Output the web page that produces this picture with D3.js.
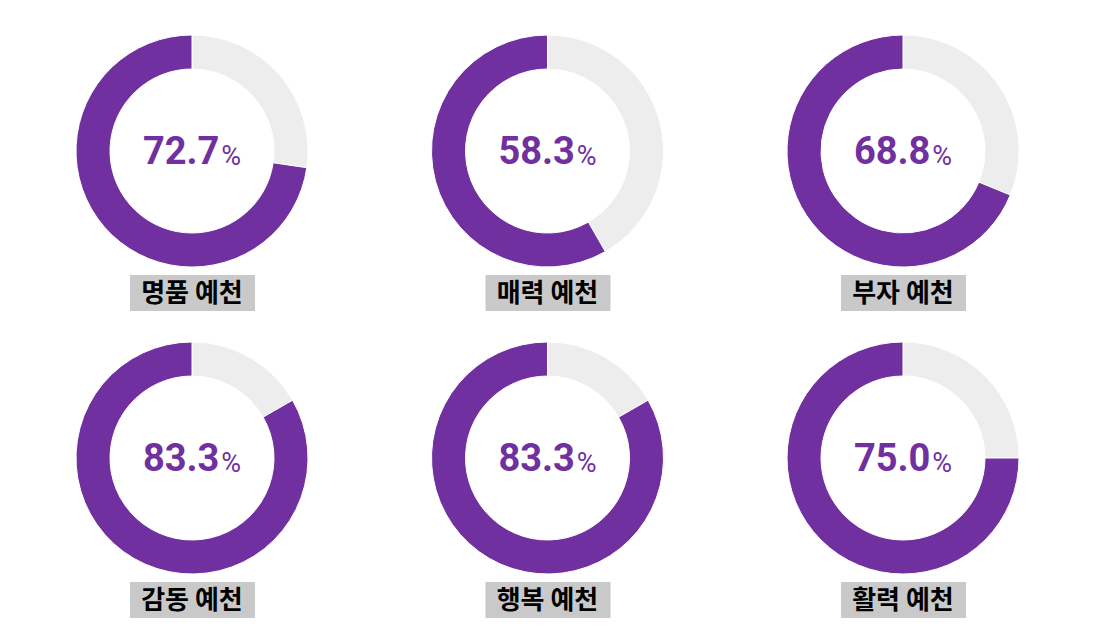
<!DOCTYPE html>
<html>
<head>
<meta charset="utf-8">
<script src="https://cdn.jsdelivr.net/npm/d3@7"></script>
<style>
  body { margin: 0; background: #fff; }
</style>
</head>
<body>
<svg id="chart" width="1095" height="644"></svg>
<script>
// values
const labels = ["명품 예천", "매력 예천", "부자 예천", "감동 예천", "행복 예천", "활력 예천"];
const percents = [72.7, 58.3, 68.8, 83.3, 83.3, 75.0];

const W = 1095, H = 644;
const outerR = 116, innerR = 82;
const purple = "#7030a0", grey = "#ededed";

const svg = d3.select("#chart");

const col = d3.scalePoint().domain([0, 1, 2]).range([192, 903]);
const row = d3.scalePoint().domain([0, 1]).range([151, 458]);

const arc = d3.arc().innerRadius(innerR).outerRadius(outerR);

// grey remainder first (clockwise from 12 o'clock), then the value runs back round to the top
const pie = d3.pie().sort(null).value(d => d);

const cells = svg.selectAll("g.donut")
  .data(percents.map((p, i) => ({ p, label: labels[i], i })))
  .enter().append("g")
    .attr("class", "donut")
    .attr("transform", d => `translate(${col(d.i % 3)},${row(Math.floor(d.i / 3))})`);

cells.selectAll("path")
  .data(d => pie([100 - d.p, d.p]))
  .enter().append("path")
    .attr("d", arc)
    .attr("fill", (d, j) => j === 0 ? grey : purple)
    .attr("stroke", "#fff")
    .attr("stroke-width", 1);

// centre value
const val = cells.append("text")
  .attr("text-anchor", "middle")
  .attr("y", 13)
  .attr("fill", purple)
  .style("font-family", "Roboto, 'Noto Sans', sans-serif");
val.append("tspan")
  .attr("font-size", 38)
  .attr("font-weight", 700)
  .text(d => d.p.toFixed(1));
val.append("tspan")
  .attr("font-size", 27)
  .attr("font-weight", 400)
  .attr("dx", 2)
  .attr("dy", 1)
  .text("%");

// label box underneath
cells.append("rect")
  .attr("x", -62)
  .attr("y", outerR + 8)
  .attr("width", 125)
  .attr("height", 36)
  .attr("fill", "#c9c9c9");

cells.append("text")
  .attr("text-anchor", "middle")
  .attr("y", outerR + 35)
  .attr("font-size", 26)
  .attr("font-weight", 700)
  .attr("fill", "#000")
  .style("font-family", "'Noto Sans CJK KR', sans-serif")
  .text(d => d.label);
</script>
</body>
</html>
